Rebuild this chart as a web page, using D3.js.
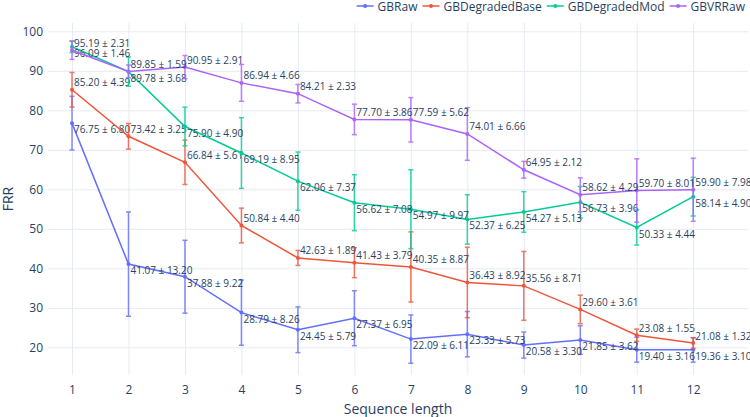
<!DOCTYPE html>
<html>
<head>
<meta charset="utf-8">
<script src="https://cdn.jsdelivr.net/npm/d3@7"></script>
<style>
  body { margin: 0; background: #fff; }
  text { font-family: "Open Sans", sans-serif; fill: #2a3f5f; }
</style>
</head>
<body>
<div id="app"></div>
<script>
// data
var seqLengths = [1, 2, 3, 4, 5, 6, 7, 8, 9, 10, 11, 12];
var yTicks = [20, 30, 40, 50, 60, 70, 80, 90, 100];

var gbRaw = [76.75, 41.07, 37.88, 28.79, 24.45, 27.37, 22.09, 23.33, 20.58, 21.85, 19.40, 19.36];
var gbRawErr = [6.80, 13.20, 9.22, 8.26, 5.79, 6.95, 6.11, 5.73, 3.30, 3.62, 3.16, 3.10];

var gbDegBase = [85.20, 73.42, 66.84, 50.84, 42.63, 41.43, 40.35, 36.43, 35.56, 29.60, 23.08, 21.08];
var gbDegBaseErr = [4.39, 3.25, 5.61, 4.40, 1.89, 3.79, 8.87, 8.92, 8.71, 3.61, 1.55, 1.32];

var gbDegMod = [96.09, 89.78, 75.90, 69.19, 62.06, 56.62, 54.97, 52.37, 54.27, 56.73, 50.33, 58.14];
var gbDegModErr = [1.46, 3.68, 4.90, 8.95, 7.37, 7.08, 9.97, 6.25, 5.13, 3.96, 4.44, 4.90];

var gbVRRaw = [95.19, 89.85, 90.95, 86.94, 84.21, 77.70, 77.59, 74.01, 64.95, 58.62, 59.70, 59.90];
var gbVRRawErr = [2.31, 1.59, 2.91, 4.66, 2.33, 3.86, 5.62, 6.66, 2.12, 4.29, 8.01, 7.98];

var seriesNames = ["GBRaw", "GBDegradedBase", "GBDegradedMod", "GBVRRaw"];
var seriesColors = ["#636efa", "#EF553B", "#00cc96", "#ab63fa"];
var seriesValues = [gbRaw, gbDegBase, gbDegMod, gbVRRaw];
var seriesErrors = [gbRawErr, gbDegBaseErr, gbDegModErr, gbVRRawErr];
var textPos = ["bottom", "top", "bottom", "top"];

// layout
var W = 750, H = 417;
var margin = {top: 23, right: 2, bottom: 42, left: 48};
var width = W - margin.left - margin.right;
var height = H - margin.top - margin.bottom;

var svg = d3.select("#app")
  .append("svg")
    .attr("width", W)
    .attr("height", H);

var g = svg.append("g")
  .attr("transform", "translate(" + margin.left + "," + margin.top + ")");

var x = d3.scaleLinear().domain([0.575, 12.97]).range([0, width]);
var y = d3.scaleLinear().domain([13.0, 102.1]).range([height, 0]);

// grid
g.append("g")
  .attr("class", "xgrid")
  .call(d3.axisBottom(x).tickValues(seqLengths).tickSize(height).tickFormat(""))
  .call(function(s) { s.select(".domain").remove(); })
  .selectAll("line").attr("stroke", "#e6ebf2").attr("stroke-width", 1);

g.append("g")
  .attr("class", "ygrid")
  .call(d3.axisLeft(y).tickValues(yTicks).tickSize(-width).tickFormat(""))
  .call(function(s) { s.select(".domain").remove(); })
  .selectAll("line").attr("stroke", "#e6ebf2").attr("stroke-width", 1);

// axes labels
var xAxis = g.append("g")
  .attr("transform", "translate(0," + height + ")")
  .call(d3.axisBottom(x).tickValues(seqLengths).tickSize(0).tickPadding(10).tickFormat(d3.format("d")));
xAxis.select(".domain").remove();
xAxis.selectAll("text").style("font-size", "12px").attr("fill", "#2a3f5f").attr("font-family", "Open Sans");

var yAxis = g.append("g")
  .call(d3.axisLeft(y).tickValues(yTicks).tickSize(0).tickPadding(5).tickFormat(d3.format("d")));
yAxis.select(".domain").remove();
yAxis.selectAll("text").style("font-size", "12px").attr("fill", "#2a3f5f").attr("font-family", "Open Sans");

svg.append("text")
  .attr("x", margin.left + width / 2)
  .attr("y", 414)
  .attr("text-anchor", "middle")
  .style("font-size", "14px")
  .text("Sequence length");

svg.append("text")
  .attr("transform", "translate(13," + (margin.top + height / 2) + ") rotate(-90)")
  .attr("text-anchor", "middle")
  .style("font-size", "14px")
  .text("FRR");

// series
var fmt = d3.format(".2f");
var line = d3.line().x(function(d) { return x(d.x); }).y(function(d) { return y(d.y); });

seriesNames.forEach(function(name, i) {
  var color = seriesColors[i];
  var pts = seqLengths.map(function(s, j) {
    return {x: s, y: seriesValues[i][j], e: seriesErrors[i][j]};
  });
  var sg = g.append("g").attr("class", "series");

  // error bars
  var eb = sg.append("g").attr("opacity", 0.8);
  pts.forEach(function(p) {
    var px = x(p.x);
    eb.append("line")
      .attr("x1", px).attr("x2", px)
      .attr("y1", y(p.y - p.e)).attr("y2", y(p.y + p.e))
      .attr("stroke", color).attr("stroke-width", 1.5);
    [p.y - p.e, p.y + p.e].forEach(function(v) {
      eb.append("line")
        .attr("x1", px - 2.5).attr("x2", px + 2.5)
        .attr("y1", y(v)).attr("y2", y(v))
        .attr("stroke", color).attr("stroke-width", 1.5);
    });
  });

  sg.append("path")
    .datum(pts)
    .attr("d", line)
    .attr("fill", "none")
    .attr("stroke", color)
    .attr("stroke-width", 1.5);

  sg.selectAll("circle")
    .data(pts)
    .join("circle")
      .attr("cx", function(d) { return x(d.x); })
      .attr("cy", function(d) { return y(d.y); })
      .attr("r", 2)
      .attr("fill", color);

  sg.selectAll("text.lbl")
    .data(pts)
    .join("text")
      .attr("class", "lbl")
      .attr("x", function(d) { return x(d.x) + 2; })
      .attr("y", function(d) { return y(d.y) + (textPos[i] === "top" ? -3.5 : 10); })
      .style("font-size", "10px")
      .text(function(d) { return fmt(d.y) + " \u00b1 " + fmt(d.e); });
});

// legend
var legend = svg.append("g").attr("class", "legend");
var items = seriesNames.map(function(name, i) {
  var it = legend.append("g");
  it.append("line")
    .attr("x1", 0).attr("x2", 17)
    .attr("y1", 0).attr("y2", 0)
    .attr("stroke", seriesColors[i]).attr("stroke-width", 1.5);
  it.append("circle").attr("cx", 8.5).attr("cy", 0).attr("r", 2).attr("fill", seriesColors[i]);
  var t = it.append("text")
    .attr("x", 21).attr("y", 4.5)
    .style("font-size", "12px")
    .text(name);
  return {g: it, w: 21 + t.node().getComputedTextLength()};
});
var lx = 745;
for (var k = items.length - 1; k >= 0; k--) {
  lx -= items[k].w;
  items[k].g.attr("transform", "translate(" + lx + ",6)");
  lx -= 5;
}
</script>
</body>
</html>
